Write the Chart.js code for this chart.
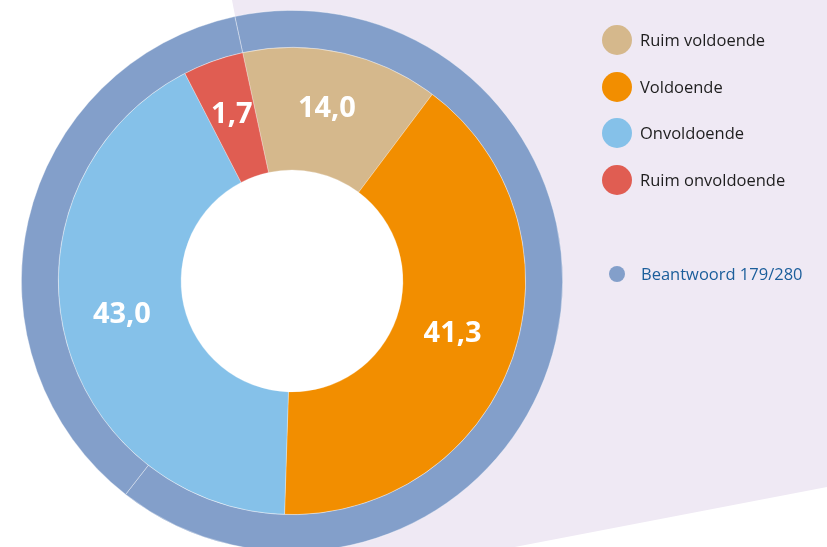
<!DOCTYPE html>
<html>
<head>
<meta charset="utf-8">
<script src="https://cdn.jsdelivr.net/npm/chart.js@4"></script>
<style>
    html, body { margin: 0; padding: 0; background: #ffffff; overflow: hidden; }
    #wrap { position: relative; width: 827px; height: 547px; overflow: hidden; }
    #donut { position: absolute; left: 0; top: 0; }
    #legend { position: absolute; left: 602px; top: 25px; font-family: 'Open Sans', sans-serif; font-size: 16.5px; color: #1e1e1e; }
    .item { position: relative; height: 46.7px; padding-left: 38px; line-height: 30px; white-space: nowrap; }
    .item .dot { position: absolute; left: 0; top: 0; width: 30px; height: 30px; border-radius: 50%; }
    .answered { position: absolute; left: 609px; top: 262px; font-family: 'Open Sans', sans-serif; font-size: 16.5px; color: #1b5e9b; line-height: 24px; padding-left: 32px; white-space: nowrap; }
    .answered .dot { position: absolute; left: 0; top: 4px; width: 16px; height: 16px; border-radius: 50%; }
</style>
</head>
<body>
<div id="wrap">
    <canvas id="donut" width="827" height="560"></canvas>
    <div id="legend"></div>
    <div class="answered" id="answered"></div>
</div>
<script>
// categorieën en percentages (binnenring)
const categories = ['Ruim voldoende', 'Voldoende', 'Onvoldoende', 'Ruim onvoldoende'];
const percentages = [14.0, 41.3, 43.0, 1.7];
const catColors = ['#d5b88c', '#f28e00', '#85c1e9', '#e05d52'];

// buitenring: aantal beantwoord
const answered = 179;
const total = 280;
const ringColor = '#839fca';

// kleine segmenten worden iets breder getekend, zoals in het origineel
const minSlice = 4.3;
const shown = percentages.map(v => Math.max(v, minSlice));

function fmt(v) {
    return v.toFixed(1).replace('.', ',');
}

// lichtpaarse achtergrondvlak + wit gat in het midden
const bgShape = {
    id: 'bgShape',
    beforeDatasetsDraw(chart) {
        const c = chart.ctx;
        c.save();
        c.fillStyle = '#efe9f4';
        c.beginPath();
        c.moveTo(232, 0);
        c.lineTo(827, 0);
        c.lineTo(827, 487);
        c.lineTo(343, 580);
        c.closePath();
        c.fill();

        const arc = chart.getDatasetMeta(1).data[0];
        if (arc) {
            c.fillStyle = '#ffffff';
            c.beginPath();
            c.arc(arc.x, arc.y, arc.innerRadius + 1, 0, Math.PI * 2);
            c.fill();
        }
        c.restore();
    }
};

// waarden in de segmenten
const sliceLabels = {
    id: 'sliceLabels',
    afterDatasetsDraw(chart) {
        const c = chart.ctx;
        const meta = chart.getDatasetMeta(1);
        c.save();
        c.fillStyle = '#ffffff';
        c.font = 'bold 29px "Open Sans", sans-serif';
        c.textAlign = 'center';
        c.textBaseline = 'middle';
        meta.data.forEach((arc, i) => {
            const p = arc.tooltipPosition();
            c.fillText(fmt(percentages[i]), p.x - 2, p.y - 4);
        });
        c.restore();
    }
};

const ctx = document.getElementById('donut').getContext('2d');
const DonutChart = new Chart(ctx, {
    type: 'doughnut',
    data: {
        labels: categories,
        datasets: [{
            label: 'Beantwoord',
            data: [answered, total - answered],
            backgroundColor: [ringColor, ringColor],
            borderColor: 'rgba(255, 255, 255, 0.45)',
            borderWidth: 0.8,
            weight: 37
        }, {
            label: 'Oordeel',
            data: shown,
            backgroundColor: catColors,
            borderColor: 'rgba(255, 255, 255, 0.35)',
            borderWidth: 0.8,
            weight: 123
        }]
    },
    options: {
        responsive: false,
        animation: false,
        rotation: -12.2,
        cutout: '41%',
        layout: {
            padding: { left: 21, top: 10, right: 264, bottom: 8 }
        },
        plugins: {
            legend: { display: false },
            tooltip: { enabled: false }
        }
    },
    plugins: [bgShape, sliceLabels]
});

// legenda
const legend = document.getElementById('legend');
categories.forEach((name, i) => {
    const row = document.createElement('div');
    row.className = 'item';
    row.innerHTML = '<span class="dot" style="background:' + catColors[i] + '"></span>' + name;
    legend.appendChild(row);
});
document.getElementById('answered').innerHTML =
    '<span class="dot" style="background:' + ringColor + '"></span>Beantwoord ' + answered + '/' + total;
</script>
</body>
</html>
